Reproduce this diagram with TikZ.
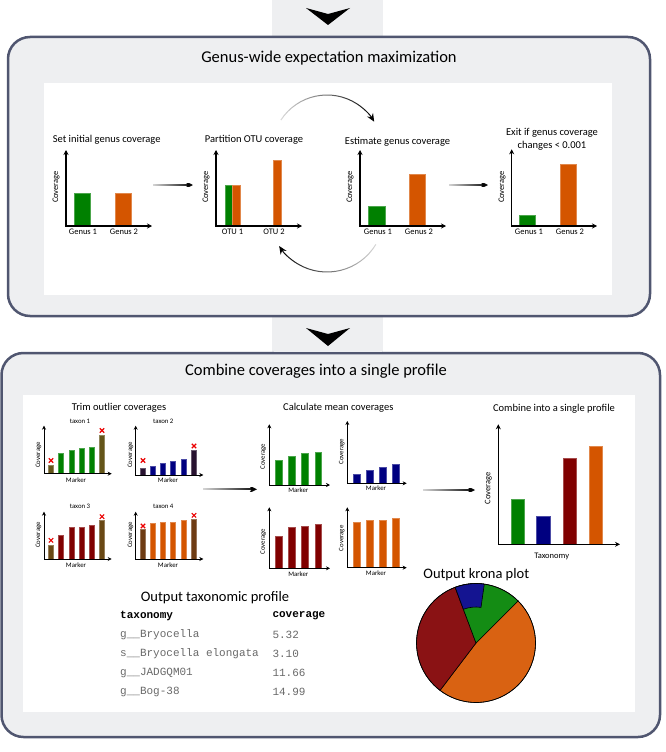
\documentclass[tikz,border=0pt]{standalone}
\usepackage{fontspec}
\setmainfont{Carlito}
\newfontfamily\tabfont{Liberation Mono}
\usetikzlibrary{arrows.meta,fadings}
\definecolor{boxfill}{RGB}{238,239,241}
\definecolor{boxline}{RGB}{80,86,112}
\definecolor{cgreen}{RGB}{0,128,0}
\definecolor{corange}{RGB}{212,85,0}
\definecolor{cnavy}{RGB}{0,0,128}
\definecolor{cred}{RGB}{128,0,0}
\definecolor{oone}{RGB}{100,85,25}
\definecolor{otwo}{RGB}{40,18,48}
\definecolor{othree}{RGB}{105,72,20}
\definecolor{ofour}{RGB}{110,60,20}
\definecolor{pgreen}{RGB}{20,140,20}
\definecolor{pblue}{RGB}{20,20,145}
\definecolor{pred}{RGB}{138,18,20}
\definecolor{porange}{RGB}{217,98,18}
\definecolor{tabgray}{RGB}{105,105,105}
\definecolor{xred}{RGB}{235,0,0}
\tikzfading[name=fadeinright, left color=transparent!85, right color=transparent!0]
\tikzfading[name=fadeinleft, left color=transparent!0, right color=transparent!85]
\newcommand\vb[5]{\filldraw[fill=#5, draw=#5!70!white, line width=0.5pt] (#1,#3) rectangle (#2,#4);}
\newcommand\xm[2]{\draw[xred, line width=1.1pt] (#1-2.2,#2-2.2) -- (#1+2.2,#2+2.2) (#1-2.2,#2+2.2) -- (#1+2.2,#2-2.2);}
\newcommand\axbig[4]{\draw[bigaxis] (#1,#2) -- (#1,#4) -- (#3,#4);}
\newcommand\axsmall[4]{\draw[smallaxis] (#1,#2) -- (#1,#4) -- (#3,#4);}
\tikzset{
  bigaxis/.style={line width=1.3pt, {Stealth[length=5pt,width=5pt]}-{Stealth[length=5pt,width=5pt]}},
  smallaxis/.style={line width=0.9pt, {Stealth[length=4pt,width=4pt]}-{Stealth[length=4pt,width=4pt]}},
  bigtitle/.style={font=\fontsize{16.5}{18}\selectfont},
  subtitle/.style={font=\fontsize{10.5}{12.5}\selectfont, align=center},
  biglabel/.style={font=\fontsize{8.5}{9}\selectfont, inner sep=0pt},
  smalllabel/.style={font=\fontsize{6.8}{7}\selectfont, inner sep=0pt},
  outtitle/.style={font=\fontsize{14.5}{16}\selectfont},
  tabhead/.style={font=\tabfont\bfseries\fontsize{11}{12}\selectfont, anchor=west, inner sep=0pt},
  tabcell/.style={font=\tabfont\fontsize{11}{12}\selectfont, text=tabgray, anchor=west, inner sep=0pt},
  flowarrow/.style={line width=1.8pt, -{Stealth[length=8pt,width=8pt]}, path fading=fadeinright},
  cycright/.style={line width=1pt, -{Stealth[length=8pt,width=7pt]}, path fading=fadeinright},
  cycleft/.style={line width=1pt, -{Stealth[length=8pt,width=7pt]}, path fading=fadeinleft},
  panel/.style={fill=boxfill, draw=boxline, line width=2.5pt, rounded corners=22pt},
  slice/.style={draw=black, line width=0.6pt},
}
\begin{document}
\begin{tikzpicture}[x=1pt,y=-1pt]
\useasboundingbox (0,0) rectangle (666,752);
% connector strips and chevrons
\fill[boxfill] (272,0) rectangle (383,40);
\fill[boxfill] (272,313) rectangle (383,356);
% panels
\draw[panel] (8,37) rectangle (650,316);
\draw[panel] (1.5,353) rectangle (660,737);
\fill[boxfill] (273.5,0) rectangle (381.5,35.5);
\fill[boxfill] (273.5,317.5) rectangle (381.5,351.5);
\fill[black] (306,8) -- (328,25) -- (350,8) -- (328,14) -- cycle;
\fill[black] (306,328) -- (328,346) -- (350,328) -- (328,334) -- cycle;
\node[bigtitle] (t1) at (329,58) {Genus-wide expectation maximization};
\node[bigtitle] (t2) at (316,371) {Combine coverages into a single profile};
\fill[white] (44,83) rectangle (612,295);
\fill[white] (23,395) rectangle (635,712);

% ---------- top panel charts ----------
% chart 1
\node[subtitle] (c1t) at (106.7,140) {Set initial genus coverage};
\vb{74}{90.7}{193}{226}{cgreen}
\vb{115}{131}{193}{226}{corange}
\axbig{66}{150}{152}{226}
\node[biglabel] (c1a) at (83,232) {Genus 1};
\node[biglabel] (c1b) at (124,232) {Genus 2};
\node[biglabel,rotate=90] (c1y) at (56,187) {Coverage};
% chart 2
\node[subtitle] (c2t) at (254,140) {Partition OTU coverage};
\vb{225}{232.7}{185.3}{226}{cgreen}
\vb{232.7}{240.7}{185.3}{226}{corange}
\vb{273.3}{281.3}{160}{226}{corange}
\axbig{216}{150}{302}{226}
\node[biglabel] (c2a) at (232.5,232) {OTU 1};
\node[biglabel] (c2b) at (274,232) {OTU 2};
\node[biglabel,rotate=90] (c2y) at (206,187) {Coverage};
% chart 3
\node[subtitle] (c3t) at (397.5,141.5) {Estimate genus coverage};
\vb{368.3}{385}{206.7}{226}{cgreen}
\vb{409.3}{425.7}{174.3}{226}{corange}
\axbig{360}{150}{446}{226}
\node[biglabel] (c3a) at (378,232) {Genus 1};
\node[biglabel] (c3b) at (419,232) {Genus 2};
\node[biglabel,rotate=90] (c3y) at (350,187) {Coverage};
% chart 4
\node[subtitle] (c4t) at (552,139.5) {Exit if genus coverage\\changes < 0.001};
\vb{519.3}{535.7}{215}{226}{cgreen}
\vb{560}{576.7}{164}{226}{corange}
\axbig{511.7}{149.3}{597}{226}
\node[biglabel] (c4a) at (529,232) {Genus 1};
\node[biglabel] (c4b) at (570,232) {Genus 2};
\node[biglabel,rotate=90] (c4y) at (502,187) {Coverage};
% arrows
\coordinate (a1s) at (153,185); \coordinate (a1e) at (193,185);
\coordinate (a2s) at (449,185); \coordinate (a2e) at (488,185);
\draw[flowarrow] (a1s) -- (a1e);
\draw[flowarrow] (a2s) -- (a2e);
\begin{scope}[shift={(327,150)}, y=1pt]
\draw[cycright] (147:55) arc[start angle=147, end angle=31, radius=55];
\end{scope}
\begin{scope}[shift={(327,215)}, y=1pt]
\draw[cycleft] (-31:57) arc[start angle=-31, end angle=-147, radius=57];
\end{scope}

% ---------- bottom panel ----------
\node[subtitle] (trt) at (119,407.7) {Trim outlier coverages};
\node[subtitle] (cmt) at (338.3,407.7) {Calculate mean coverages};
\node[subtitle] (cbt) at (554,408.3) {Combine into a single profile};
% taxon 1
\node[smalllabel] (x1t) at (80,421) {taxon 1};
\vb{48.3}{53.6}{465}{473.7}{oone}
\vb{58.3}{63.6}{453.3}{473.7}{cgreen}
\vb{69}{74.3}{450.7}{473.7}{cgreen}
\vb{79}{84.3}{448.3}{473.7}{cgreen}
\vb{89}{94.3}{447}{473.7}{cgreen}
\vb{99.3}{104.6}{435}{473.7}{oone}
\axsmall{44}{425.7}{111.7}{473.7}
\xm{51}{460.5}\xm{102}{430.5}
\node[smalllabel] (x1m) at (76,480) {Marker};
\node[smalllabel,rotate=90] (x1y) at (38.5,455) {Coverage};
% taxon 2
\node[smalllabel] (x2t) at (163.3,421) {taxon 2};
\vb{140.7}{145.4}{468.3}{475}{otwo}
\vb{150.7}{155.4}{466}{475}{cnavy}
\vb{160.7}{165.4}{463}{475}{cnavy}
\vb{170.7}{175.4}{461}{475}{cnavy}
\vb{181.3}{186}{459}{475}{cnavy}
\vb{191.7}{196.4}{450}{475}{otwo}
\axsmall{135.7}{425.7}{203.3}{475}
\xm{143}{460.5}\xm{194}{446}
\node[smalllabel] (x2m) at (168,480) {Marker};
\node[smalllabel,rotate=90] (x2y) at (130.5,455) {Coverage};
% taxon 3
\node[smalllabel] (x3t) at (80,506) {taxon 3};
\vb{48.3}{53.6}{545}{559}{othree}
\vb{58.3}{63.6}{535}{559}{cred}
\vb{69}{74.3}{527.7}{559}{cred}
\vb{79}{84.3}{527}{559}{cred}
\vb{89}{94.3}{525.7}{559}{cred}
\vb{99.3}{104.6}{520.7}{559}{othree}
\axsmall{44}{511.7}{111.7}{559}
\xm{51}{540.3}\xm{102}{516.7}
\node[smalllabel] (x3m) at (76,565) {Marker};
\node[smalllabel,rotate=90] (x3y) at (38.5,535) {Coverage};
% taxon 4
\node[smalllabel] (x4t) at (163.3,506) {taxon 4};
\vb{140.7}{145.4}{529.3}{559}{ofour}
\vb{150.7}{155.4}{523.7}{559}{corange}
\vb{160.7}{165.4}{522.3}{559}{corange}
\vb{170.7}{175.4}{522.3}{559}{corange}
\vb{181.3}{186}{520.7}{559}{corange}
\vb{191.7}{196.4}{519.7}{559}{ofour}
\axsmall{135.7}{511.7}{203.3}{559}
\xm{143}{526}\xm{194}{515.3}
\node[smalllabel] (x4m) at (168,565) {Marker};
\node[smalllabel,rotate=90] (x4y) at (130.5,535) {Coverage};
% mean 1
\vb{275.7}{282.2}{460}{485}{cgreen}
\vb{288.3}{294.8}{456}{485}{cgreen}
\vb{301.7}{308.2}{453.3}{485}{cgreen}
\vb{315}{321.5}{452}{485}{cgreen}
\axsmall{269.3}{424.3}{330}{485}
\node[smalllabel] (m1m) at (298.3,490.5) {Marker};
\node[smalllabel,rotate=90] (m1y) at (263.3,456.7) {Coverage};
% mean 2
\vb{353.7}{360.2}{474}{483.3}{cnavy}
\vb{366.7}{373.2}{470}{483.3}{cnavy}
\vb{379.7}{386.2}{467}{483.3}{cnavy}
\vb{392.7}{399.2}{464.3}{483.3}{cnavy}
\axsmall{347.3}{421}{406.7}{483.3}
\node[smalllabel] (m2m) at (376,488.5) {Marker};
\node[smalllabel,rotate=90] (m2y) at (341.7,451.7) {Coverage};
% mean 3
\vb{275.7}{282.2}{536.3}{568.3}{cred}
\vb{288.3}{294.8}{527.3}{568.3}{cred}
\vb{301.7}{308.2}{526}{568.3}{cred}
\vb{315}{321.5}{524.7}{568.3}{cred}
\axsmall{269.3}{507.3}{330}{568.3}
\node[smalllabel] (m3m) at (298.3,573.8) {Marker};
\node[smalllabel,rotate=90] (m3y) at (263.3,541.7) {Coverage};
% mean 4
\vb{353.7}{360.2}{522}{567.7}{corange}
\vb{366.7}{373.2}{520.7}{567.7}{corange}
\vb{379.7}{386.2}{520.7}{567.7}{corange}
\vb{392.7}{399.2}{518.3}{567.7}{corange}
\axsmall{347.3}{507.3}{406.7}{567.7}
\node[smalllabel] (m4m) at (376,573.3) {Marker};
\node[smalllabel,rotate=90] (m4y) at (341.7,538.3) {Coverage};
% combine chart
\vb{511}{524.3}{499.3}{544.3}{cgreen}
\vb{536.7}{550}{516}{544.3}{cnavy}
\vb{563.3}{576.7}{458.3}{544.3}{cred}
\vb{589.3}{602.7}{446}{544.3}{corange}
\axbig{498.3}{424.3}{620}{544.3}
\node[biglabel] (cbx) at (551.7,556) {Taxonomy};
\node[biglabel,rotate=90] (cby) at (488.3,488.3) {Coverage};
% arrows
\coordinate (a3s) at (203,489.3); \coordinate (a3e) at (257,489.3);
\coordinate (a4s) at (423,490); \coordinate (a4e) at (475,490);
\draw[flowarrow] (a3s) -- (a3e);
\draw[flowarrow] (a4s) -- (a4e);

% output table
\node[outtitle] (ott) at (215,597.3) {Output taxonomic profile};
\node[tabhead] (h1) at (120,616) {taxonomy};
\node[tabhead] (h2) at (272.3,616) {coverage};
\node[tabcell] (r1a) at (120,635) {g\_\_Bryocella};
\node[tabcell] (r1b) at (272.3,635) {5.32};
\node[tabcell] (r2a) at (120,654) {s\_\_Bryocella elongata};
\node[tabcell] (r2b) at (272.3,654) {3.10};
\node[tabcell] (r3a) at (120,672.7) {g\_\_JADGQM01};
\node[tabcell] (r3b) at (272.3,672.7) {11.66};
\node[tabcell] (r4a) at (120,691.7) {g\_\_Bog-38};
\node[tabcell] (r4b) at (272.3,691.7) {14.99};

% krona
\node[outtitle] (kt) at (476.3,575) {Output krona plot};
\begin{scope}[shift={(476,643)}, y=1pt]
\filldraw[slice, fill=porange] (0,0) -- (-127.2:59.5) arc[start angle=-127.2, end angle=45, radius=59.5] -- cycle;
\filldraw[slice, fill=pred] (0,0) -- (110.5:59.5) arc[start angle=110.5, end angle=232.8, radius=59.5] -- cycle;
\filldraw[slice, fill=pgreen] (0,0) -- (45:59.5) arc[start angle=45, end angle=110.5, radius=59.5] -- cycle;
\filldraw[slice, fill=pblue] (82:36) -- (82:59.5) arc[start angle=82, end angle=110.5, radius=59.5] -- (110.5:36) arc[start angle=110.5, end angle=82, radius=36] -- cycle;
\draw[slice] (0,0) circle[radius=59.5];
\end{scope}
\end{tikzpicture}
\end{document}
